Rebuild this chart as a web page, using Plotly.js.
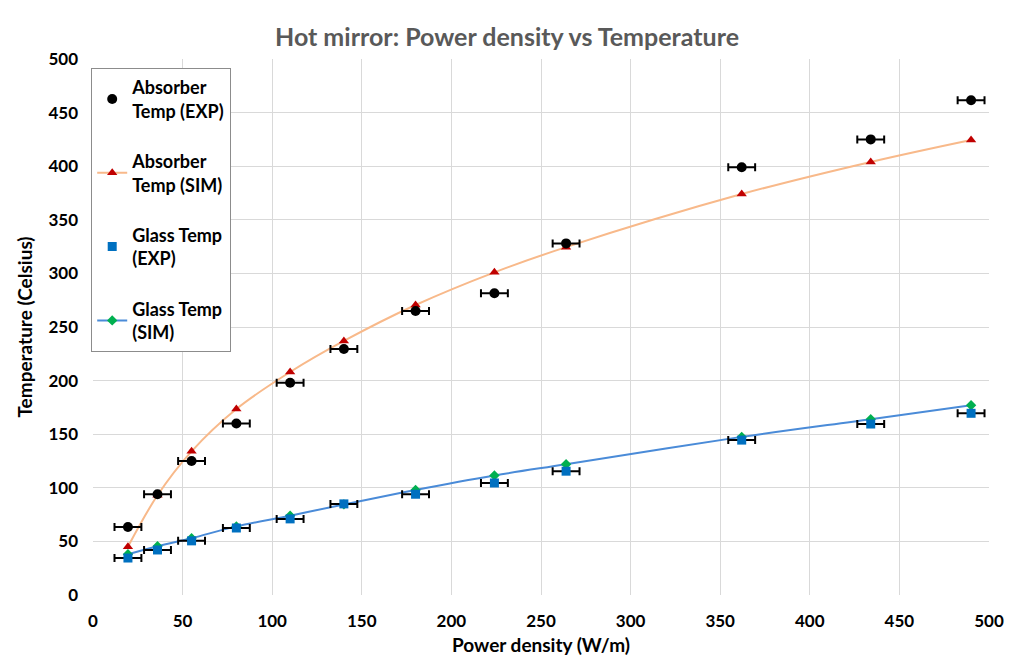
<!DOCTYPE html>
<html>
<head>
<meta charset="utf-8">
<script src="https://cdn.plot.ly/plotly-3.0.1.min.js"></script>
<style>
html,body{margin:0;padding:0;background:#fff;}
#chart{width:1014px;height:663px;}
</style>
</head>
<body>
<div id="chart"></div>
<script>
// Power density (W/m)
var powerDensity = [19.5, 36, 55, 80, 110, 140, 180, 224, 264, 362, 434, 490];
var absorberExp = [63.5, 94, 125, 160, 198, 229.5, 265, 281.5, 328, 399, 425, 461.5];
var absorberSim = [45, 93, 134, 173.5, 208, 237, 270.5, 301, 324.5, 374, 404, 424.5];
var glassExp = [34.5, 42, 50.5, 62.5, 71, 85, 94, 104.5, 115.5, 144.5, 159.5, 169.5];
var glassSim = [38, 45.5, 53, 64, 74, 84.5, 98, 111.5, 122, 147.5, 164, 177];
var xError = [7.5, 7.5, 7.5, 7.5, 7.5, 7.5, 7.5, 7.5, 7.5, 7.5, 7.5, 7.5];

var font = "Lato, 'Open Sans', sans-serif";
var errX = {type: 'data', array: xError, visible: true, color: '#000000', thickness: 2, width: 4};

var traces = [
  {
    name: 'Absorber<br>Temp (SIM)', x: powerDensity, y: absorberSim,
    mode: 'lines+markers', type: 'scatter', legendrank: 2, legendgroup: 'b',
    line: {color: '#F8B98A', width: 2, shape: 'spline', smoothing: 1},
    marker: {symbol: 'triangle-up', size: 9, color: '#C00000'}
  },
  {
    name: 'Glass Temp<br>(SIM)', x: powerDensity, y: glassSim,
    mode: 'lines+markers', type: 'scatter', legendrank: 4, legendgroup: 'd',
    line: {color: '#4A8BD8', width: 2, shape: 'spline', smoothing: 1},
    marker: {symbol: 'diamond', size: 8, color: '#00B050'}
  },
  {
    name: 'Absorber<br>Temp (EXP)', x: powerDensity, y: absorberExp,
    mode: 'markers', type: 'scatter', legendrank: 1, legendgroup: 'a',
    marker: {symbol: 'circle', size: 10, color: '#000000'},
    error_x: errX
  },
  {
    name: 'Glass Temp<br>(EXP)', x: powerDensity, y: glassExp,
    mode: 'markers', type: 'scatter', legendrank: 3, legendgroup: 'c',
    marker: {symbol: 'square', size: 9, color: '#0070C0'},
    error_x: errX
  }
];

var layout = {
  width: 1014, height: 663,
  margin: {l: 93, r: 25, t: 59, b: 68},
  paper_bgcolor: '#ffffff', plot_bgcolor: '#ffffff',
  font: {family: font, color: '#000000'},
  title: {
    text: '<b>Hot mirror: Power density vs Temperature</b>',
    font: {family: font, size: 25, color: '#595959'},
    x: 0.5, xanchor: 'center', y: 0.944, yanchor: 'middle'
  },
  xaxis: {
    range: [0, 500], dtick: 50, tick0: 0,
    showgrid: true, gridcolor: '#D9D9D9', gridwidth: 1,
    zeroline: false, showline: false, ticks: '',
    ticklabelstandoff: 14,
    tickfont: {family: font, size: 17, color: '#000000', weight: 'bold'},
    title: {text: '<b>Power density (W/m)</b>', font: {family: font, size: 19, color: '#000000'}, standoff: 8}
  },
  yaxis: {
    range: [0, 500], dtick: 50, tick0: 0,
    showgrid: true, gridcolor: '#D9D9D9', gridwidth: 1,
    zeroline: false, showline: false, ticks: '',
    ticklabelstandoff: 14,
    tickfont: {family: font, size: 17, color: '#000000', weight: 'bold'},
    title: {text: '<b>Temperature (Celsius)</b>', font: {family: font, size: 19, color: '#000000'}, standoff: 10}
  },
  showlegend: true,
  legend: {
    x: -0.002, y: 0.983, xanchor: 'left', yanchor: 'top',
    bgcolor: '#ffffff', bordercolor: '#8C8C8C', borderwidth: 1,
    font: {family: font, size: 18, color: '#000000', weight: 'bold'},
    traceorder: 'grouped', tracegroupgap: 24, itemwidth: 30
  }
};

Plotly.newPlot('chart', traces, layout, {displayModeBar: false, staticPlot: true});
</script>
</body>
</html>
